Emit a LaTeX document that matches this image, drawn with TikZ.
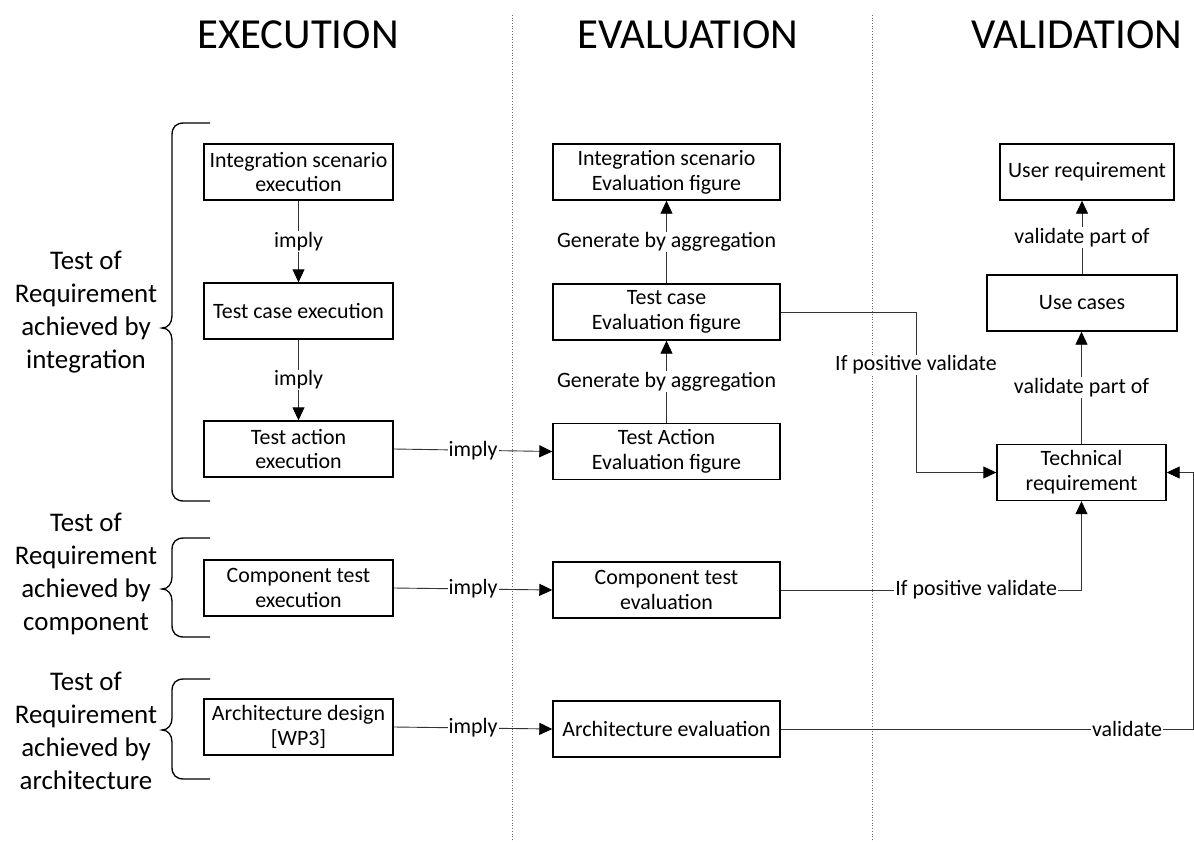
\documentclass[tikz,border=0pt]{standalone}
\usepackage{fontspec}
\setmainfont{Carlito}
\usetikzlibrary{arrows.meta}
\begin{document}
\begin{tikzpicture}[x=1bp,y=-1bp,
  box/.style={draw=black,line width=1.4bp,minimum height=56bp,inner sep=2bp,
    align=center,font=\fontsize{22}{25}\selectfont},
  conn/.style={draw=black!80,line width=0.9bp,-{Triangle[length=13bp,width=12bp,color=black]}},
  lab/.style={fill=white,inner sep=1bp,font=\fontsize{22}{25}\selectfont},
  heading/.style={font=\fontsize{43}{47}\selectfont},
  group/.style={align=center,font=\fontsize{27}{33}\selectfont},
  divider/.style={draw=black!60,line width=0.7bp,dotted},
  bracket/.style={draw=black,line width=1.3bp}]
\useasboundingbox (0,0) rectangle (1194,842);

% column dividers
\draw[divider] (512,15) -- (512,842);
\draw[divider] (872,15) -- (872,842);

% column headings
\node[heading] (hexe) at (298,35) {EXECUTION};
\node[heading] (heva) at (688,35) {EVALUATION};
\node[heading] (hval) at (1077,35) {VALIDATION};

% execution column
\node[box,minimum width=189bp] (ise) at (298.5,172) {Integration scenario\\execution};
\node[box,minimum width=189bp] (tce) at (298.5,311) {Test case execution};
\node[box,minimum width=189bp] (tae) at (298.5,449) {Test action\\execution};
\node[box,minimum width=189bp] (cte) at (298.5,588) {Component test\\execution};
\node[box,minimum width=189bp] (ade) at (298.5,727) {Architecture design\\{[WP3]}};

% evaluation column
\node[box,minimum width=227bp] (isef) at (666.5,172) {Integration scenario\\Evaluation figure};
\node[box,minimum width=227bp] (tcef) at (666.5,312) {Test case\\Evaluation figure};
\node[box,minimum width=227bp] (taef) at (666.5,451.5) {Test Action\\Evaluation figure};
\node[box,minimum width=227bp] (ctev) at (666.5,590) {Component test\\evaluation};
\node[box,minimum width=227bp] (aev) at (666.5,729) {Architecture evaluation};

% validation column
\node[box,minimum width=174bp] (ur) at (1087,172) {User requirement};
\node[box,minimum width=190bp] (uc) at (1082,303) {Use cases};
\node[box,minimum width=169bp] (tr) at (1081.5,472.5) {Technical\\requirement};

% group labels and braces
\node[group] (g1) at (86,312) {Test of\\Requirement\\achieved by\\integration};
\node[group] (g2) at (86,574) {Test of\\Requirement\\achieved by\\component};
\node[group] (g3) at (86,731) {Test of\\Requirement\\achieved by\\architecture};

\draw[bracket] (210,123) -- (184,123) .. controls (176,123) and (172,127) .. (172,135)
  -- (172,316) .. controls (172,323) and (168,328) .. (162,328)
  .. controls (168,328) and (172,333) .. (172,340)
  -- (172,489) .. controls (172,497) and (176,501) .. (184,501) -- (210,501);
\draw[bracket] (210,538) -- (184,538) .. controls (176,538) and (172,542) .. (172,550)
  -- (172,577) .. controls (172,584) and (168,589) .. (162,589)
  .. controls (168,589) and (172,594) .. (172,601)
  -- (172,625) .. controls (172,633) and (176,637) .. (184,637) -- (210,637);
\draw[bracket] (210,679) -- (184,679) .. controls (176,679) and (172,683) .. (172,691)
  -- (172,718) .. controls (172,725) and (168,730) .. (162,730)
  .. controls (168,730) and (172,735) .. (172,742)
  -- (172,767) .. controls (172,775) and (176,779) .. (184,779) -- (210,779);

% execution flow
\draw[conn] (ise) -- node[lab] {imply} (tce);
\draw[conn] (tce) -- node[lab] {imply} (tae);
\draw[conn] (tae.east) -- node[lab] {imply} (taef.west);
\draw[conn] (cte.east) -- node[lab] {imply} (ctev.west);
\draw[conn] (ade.east) -- node[lab] {imply} (aev.west);

% aggregation
\draw[conn] (taef) -- node[lab] {Generate by aggregation} (tcef);
\draw[conn] (tcef) -- node[lab] {Generate by aggregation} (isef);

% validation links
\coordinate (k1) at (916,0);
\coordinate (k2) at (1193,0);
\draw[conn] (tcef.east) -- (tcef.east -| k1) -- node[lab,pos=0.33] {If positive validate} (tr.west -| k1) -- (tr.west);
\draw[conn] (ctev.east) -- node[lab,pos=0.65] {If positive validate} (ctev.east -| tr.south) -- (tr.south);
\draw[conn] (aev.east) -- node[lab,pos=0.84] {validate} (aev.east -| k2) -- (tr.east -| k2) -- (tr.east);
\draw[conn] (tr.north) -- node[lab] {validate part of} (tr.north |- uc.south);
\draw[conn] (uc.north) -- node[lab] {validate part of} (uc.north |- ur.south);
\end{tikzpicture}
\end{document}
